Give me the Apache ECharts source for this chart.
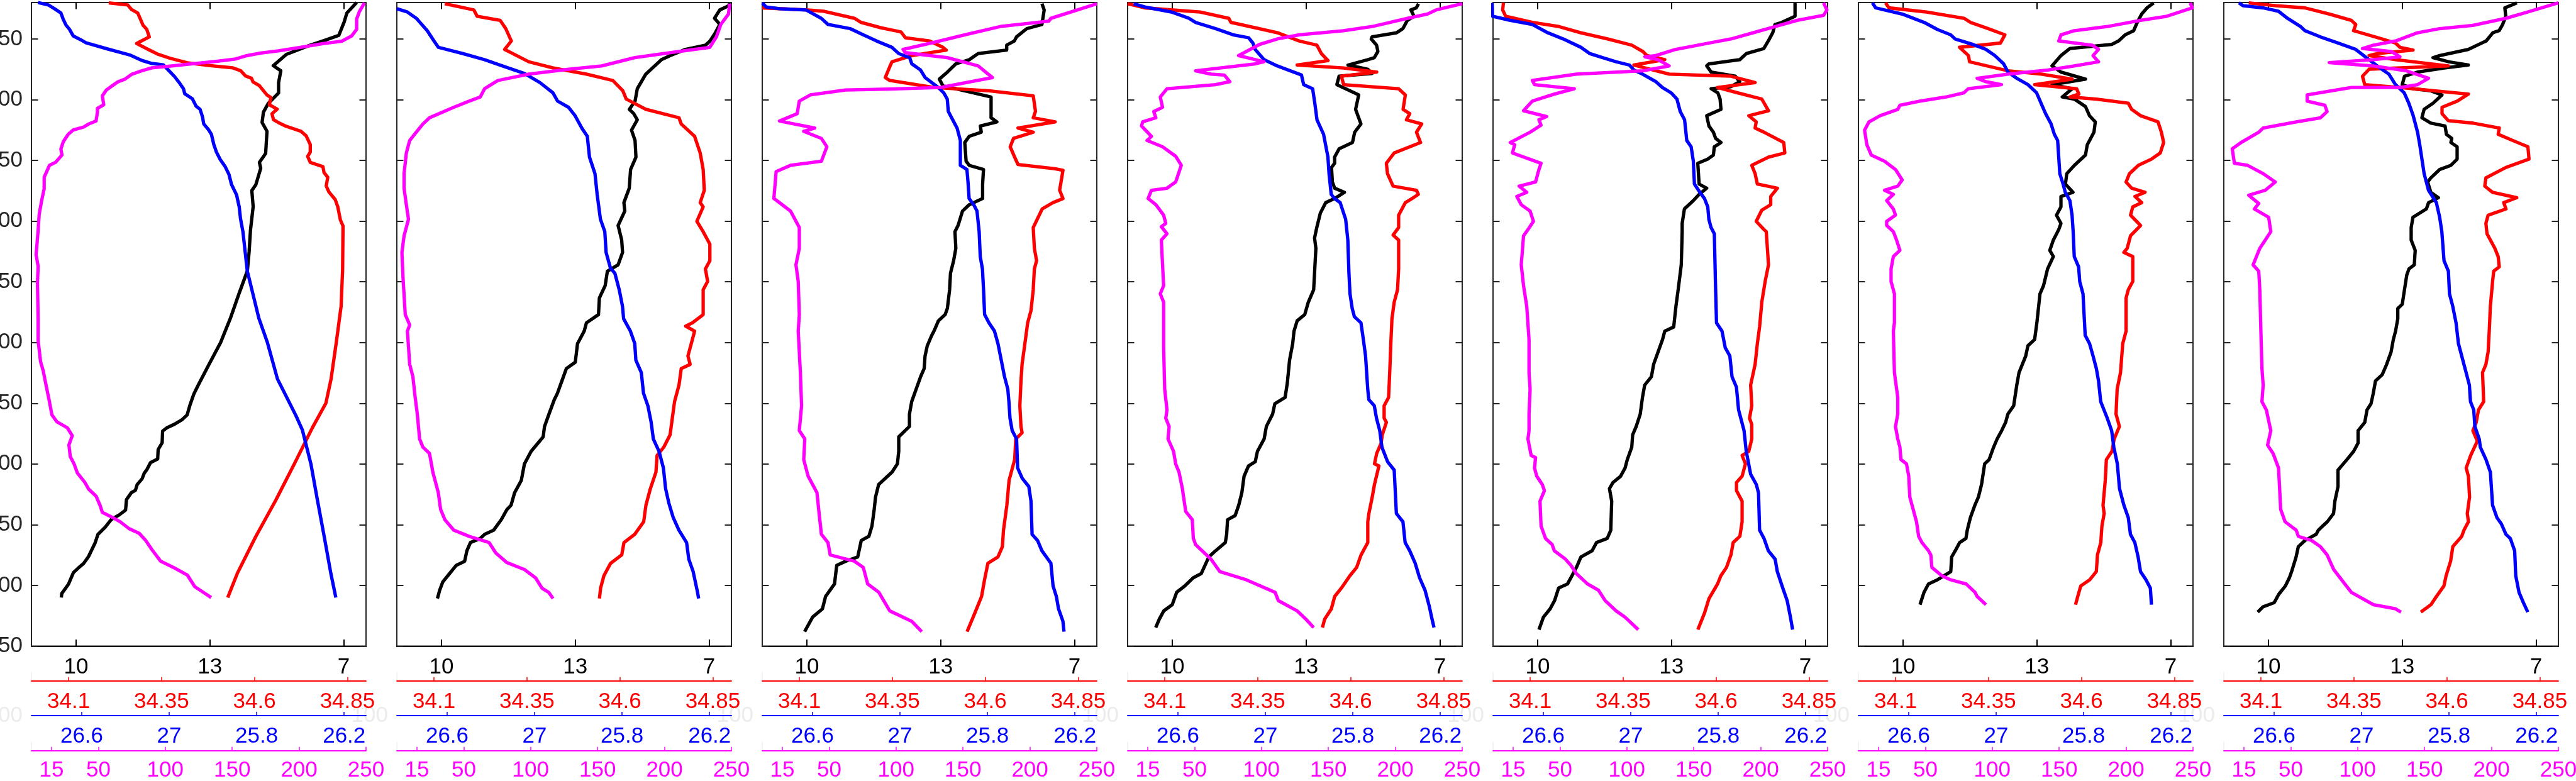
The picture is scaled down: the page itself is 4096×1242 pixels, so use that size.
<!DOCTYPE html>
<html><head><meta charset="utf-8">
<script src="https://cdn.jsdelivr.net/npm/echarts@6/dist/echarts.min.js"></script>
<style>html,body{margin:0;padding:0;background:#fff;}#c{width:4096px;height:1242px;}</style>
</head><body><div id="c"></div>
<script>
// ---- tick values and labels ----
const depthTicks = [50,100,150,200,250,300,350,400,450,500,550];
const tempTicks = [10,13,16];
const tempLabels = ['10','13','7'];
const salTicks = [34.1,34.35,34.6,34.85];
const salLabels = ['34.1','34.35','34.6','34.85'];
const densTicks = [25.4,25.8,26.2,26.6];
const densLabels = ['26.6','27','25.8','26.2'];
const oxyTicks = [15,50,100,150,200,250];
const oxyLabels = ['15','50','100','150','200','250'];
const ghostLabel = '100';

// ---- profiles: [value, depth] ----
const temp1 = [[16.29,20],[16.07,28.7],[16.01,36],[15.89,47],[15.56,51.3],[15.22,55.5],[14.71,62.8],[14.42,72],[14.59,76.2],[14.54,86],[14.54,94.5],[14.31,103],[14.20,110.3],[14.17,118.8],[14.28,126],[14.25,144.3],[14.11,151.7],[14.14,156.5],[14.03,170],[13.94,174.8],[13.97,188],[13.91,207.5],[13.88,225],[13.84,241],[13.65,260],[13.46,280],[13.24,300],[12.98,318],[12.74,335],[12.64,342.4],[12.55,351.9],[12.49,359.6],[12.38,363.4],[12.21,367.2],[12.04,370.1],[11.94,372.9],[11.93,382.5],[11.84,388.2],[11.83,395.9],[11.67,398.8],[11.59,404.5],[11.53,407.5],[11.48,412.2],[11.37,417],[11.33,421.7],[11.24,423.6],[11.13,429.3],[11.11,438],[10.97,441.9],[10.79,445.7],[10.65,452.2],[10.49,458],[10.43,464.7],[10.28,476.2],[10.17,481.9],[10.05,485.7],[9.94,489.5],[9.83,499],[9.68,506.7],[9.67,510]];
const sal1 = [[34.208,20.3],[34.259,22],[34.269,25.7],[34.286,28.7],[34.293,33.6],[34.30,38.6],[34.31,42],[34.317,48.3],[34.283,53.7],[34.31,58],[34.338,62.3],[34.372,65.8],[34.419,69.6],[34.481,72],[34.542,73.8],[34.563,76.2],[34.576,80.5],[34.592,82.4],[34.596,85.4],[34.613,88.4],[34.626,93.3],[34.634,96.3],[34.644,98.2],[34.64,104.2],[34.661,107.8],[34.647,111.6],[34.651,116.4],[34.664,118.8],[34.685,121.9],[34.725,126],[34.739,129.8],[34.75,137],[34.75,143.2],[34.743,146.7],[34.75,151.6],[34.784,155.2],[34.787,160],[34.797,163.9],[34.793,171.1],[34.80,175.9],[34.817,182.2],[34.824,188.2],[34.831,199],[34.838,204],[34.838,208.6],[34.837,240],[34.833,270],[34.82,300],[34.806,330],[34.792,350],[34.756,370],[34.707,400],[34.657,430],[34.603,460],[34.554,490],[34.528,510]];
const dens1 = [[25.20,20],[25.247,22],[25.276,25.2],[25.305,28.7],[25.315,33.6],[25.328,38.6],[25.344,42.1],[25.361,47.5],[25.396,50.7],[25.419,53.1],[25.513,58],[25.623,63.4],[25.675,67.7],[25.721,70.2],[25.773,71.3],[25.796,75.6],[25.825,81.1],[25.848,86.5],[25.865,90.9],[25.871,95.1],[25.906,99.3],[25.923,105.4],[25.941,107.9],[25.952,114],[25.958,120],[25.981,125],[25.993,128.5],[26.004,137],[26.016,143.2],[26.033,149.2],[26.056,155.2],[26.073,161.4],[26.085,169.9],[26.108,178.4],[26.12,188.2],[26.126,198],[26.137,208.6],[26.157,241],[26.21,280],[26.249,300],[26.295,330],[26.379,360],[26.409,372],[26.448,400],[26.478,430],[26.509,460],[26.539,490],[26.562,510]];
const oxy1 = [[248.8,20.3],[245,27.6],[243,33.6],[243,42.1],[239.3,47.5],[231.8,51.9],[218.5,53.7],[201.5,56.8],[184.5,59.8],[171.3,61.6],[160,64],[152.5,66.5],[139,68.3],[118.3,70.7],[101.3,72.6],[90,73.8],[82.5,76.2],[74.8,79.2],[70,83],[64.5,85.4],[59.8,89],[56,92],[53,96.9],[54,104.2],[49.3,107.2],[49.3,110.3],[48.3,117.6],[42.8,120],[39,122.5],[31.3,124.9],[27.5,128.5],[23.8,134.6],[22,140.7],[22.8,145.6],[18,151.6],[13.5,154],[11.5,159],[9.5,163.9],[9.5,173.5],[7.8,182.2],[5.8,194.2],[5,207.5],[3.5,227.7],[5,237.2],[4.5,250.6],[5,281.3],[5,298.4],[6.8,315.7],[8.8,323.3],[10.5,332.9],[13,346.2],[15.3,359.6],[19,365.3],[26.8,370.2],[30.5,376.7],[28,384.3],[29,393.9],[31.8,399.8],[34.3,407.4],[39.8,415],[42.8,420.8],[48.3,426.5],[51.3,434.2],[53,439.9],[61.5,444.6],[66.3,447.6],[73,453.3],[80.5,457.1],[85.3,462.9],[90,470.5],[96.5,480],[107,485.7],[116.5,491.5],[122,501],[127.5,505],[134.3,510]];

const temp2 = [[16.46,20.5],[16.44,22.7],[16.24,26.1],[16.12,33],[16.24,38],[16.14,44.9],[16.02,51.7],[15.92,55.1],[15.47,58.6],[15.13,63.7],[14.93,67.1],[14.73,73.9],[14.58,79],[14.39,91],[14.34,101.2],[14.21,108],[14.31,111.5],[14.39,116.6],[14.26,125.1],[14.34,133.6],[14.36,147.3],[14.24,157.5],[14.21,172.9],[14.09,184.8],[14.11,191.7],[13.96,203.6],[14.04,215.6],[14.06,225.8],[13.96,236],[13.72,241.2],[13.67,253.1],[13.54,263.3],[13.52,277],[13.25,283.8],[13.20,290.6],[13.05,300.9],[13.00,316.2],[12.80,321.4],[12.70,331.6],[12.60,341.8],[12.53,347],[12.41,358.9],[12.31,369.2],[12.28,377.7],[12.01,389.6],[11.86,399.9],[11.79,413.5],[11.64,423.7],[11.56,434],[11.47,437.4],[11.34,445.9],[11.17,454.5],[10.97,457.9],[10.87,461.3],[10.65,464.7],[10.57,471.5],[10.52,480.1],[10.33,483.5],[10.18,490.3],[10.03,497.1],[9.96,504],[9.91,510.8]];
const sal2 = [[34.129,21],[34.207,26.1],[34.216,31.3],[34.278,34.7],[34.293,41.5],[34.308,51.7],[34.290,58.6],[34.355,68.8],[34.421,73.9],[34.510,79],[34.581,84.2],[34.608,92.7],[34.617,99.5],[34.670,108],[34.759,114.9],[34.765,120],[34.801,130.2],[34.816,143.9],[34.824,157.5],[34.827,174.6],[34.816,184.8],[34.824,188.3],[34.807,200.2],[34.824,208.7],[34.842,219],[34.842,232.6],[34.830,239.4],[34.836,249.7],[34.824,256.5],[34.824,277],[34.795,283.8],[34.777,286.5],[34.801,290.6],[34.792,300.9],[34.783,311.1],[34.789,318],[34.765,321.4],[34.759,335],[34.747,348.7],[34.741,362.3],[34.735,376],[34.718,386.2],[34.700,393],[34.697,406.7],[34.682,420.3],[34.670,434],[34.664,447.6],[34.640,457.9],[34.611,464.7],[34.605,474.9],[34.575,481.8],[34.557,492],[34.548,502.3],[34.545,510.8]];
const dens2 = [[25.17,25.1],[25.218,27.8],[25.259,33],[25.309,43.2],[25.34,51.7],[25.36,56.9],[25.471,62],[25.572,67.1],[25.652,72.2],[25.753,78.4],[25.824,85.9],[25.884,94.4],[25.905,101.2],[25.955,106.3],[25.985,113.2],[26.016,123.4],[26.041,130.2],[26.051,147.3],[26.076,160.9],[26.086,178],[26.101,198.5],[26.121,208.7],[26.127,225.8],[26.147,238.8],[26.167,242.9],[26.187,256.5],[26.202,270.2],[26.207,280.4],[26.238,290.6],[26.258,300.9],[26.263,314.5],[26.288,324.8],[26.298,341.8],[26.318,352.1],[26.333,365.7],[26.343,379.4],[26.369,389.6],[26.389,403.3],[26.399,420.3],[26.414,432.3],[26.434,444.2],[26.46,454.5],[26.495,464.7],[26.505,478.3],[26.525,488.6],[26.545,505.6],[26.55,510.8]];
const oxy2 = [[248.7,21],[247.8,29.5],[242.1,38],[238.8,48.3],[233.8,56.9],[210.7,60.3],[177.8,65.4],[153.0,72.2],[128.3,74.9],[98.6,79],[75.5,84.2],[65.6,91],[62.3,97.8],[54.1,101.2],[42.5,106.3],[24.4,114.9],[19.5,120],[14.5,126.8],[9.6,133.6],[7.1,143.9],[5.4,161],[5.4,172.9],[7.1,186.5],[8.7,198.5],[5.4,212.1],[3.8,225.8],[4.6,246.3],[6.3,277],[9.6,285.5],[7.9,290.6],[9.6,317.9],[12.0,328.2],[13.7,345.2],[15.3,358.9],[17.0,379.4],[19.5,386.2],[24.4,391.3],[26.9,406.7],[31.0,423.7],[32.7,437.4],[35.9,445.9],[42.5,454.5],[54.1,459.6],[68.9,464.7],[73.9,473.2],[82.1,481.1],[95.3,486.9],[103.6,493.7],[108.5,502.3],[113.5,505.7],[116.7,510.8]];

const temp3 = [[15.27,21.0],[15.32,26.1],[15.27,38.1],[14.93,41.5],[14.70,48.3],[14.65,51.7],[14.48,55.1],[14.48,59.2],[13.84,62],[13.64,67.1],[13.34,70.5],[13.15,77.3],[12.97,83.1],[13.05,88.6],[13.34,91],[14.13,97.8],[14.13,114.9],[14.26,118.3],[13.89,121.7],[13.91,126.8],[13.64,130.2],[13.54,135.3],[13.57,150.7],[13.64,154.1],[13.96,157.5],[13.94,169.5],[13.94,181.4],[13.64,186.5],[13.49,191.7],[13.39,203.6],[13.32,208.7],[13.34,222.4],[13.29,232.6],[13.22,242.9],[13.20,256.5],[13.15,271.9],[13.10,277],[12.95,282.1],[12.85,290.6],[12.80,294.1],[12.70,302.6],[12.65,311.1],[12.63,321.4],[12.55,328.2],[12.45,338.4],[12.35,348.7],[12.30,358.9],[12.30,369.1],[12.06,377.7],[12.06,389.6],[12.03,399.9],[11.91,406.7],[11.61,416.9],[11.54,427.2],[11.51,437.4],[11.46,451.1],[11.39,459.6],[11.22,463],[11.14,476.6],[10.87,480.1],[10.67,483.5],[10.62,498.8],[10.42,509.1],[10.35,519.3],[10.13,526.1],[9.95,538.1]];
const sal3 = [[34.0,24.4],[34.123,26.1],[34.165,27.2],[34.248,33],[34.266,36.4],[34.319,40.8],[34.373,44.2],[34.385,49],[34.45,51.7],[34.486,56.9],[34.495,59.2],[34.403,63.7],[34.349,68.8],[34.343,72.9],[34.331,81.8],[34.343,84.2],[34.462,90],[34.610,92.7],[34.729,96.8],[34.735,109.7],[34.729,114.9],[34.788,118.3],[34.688,123.4],[34.729,126.8],[34.676,131.9],[34.667,138.8],[34.679,147.3],[34.688,153.4],[34.788,156.9],[34.809,158.2],[34.80,174.6],[34.809,181.4],[34.782,184.8],[34.753,190],[34.729,205.3],[34.732,222.4],[34.738,232.6],[34.732,239.4],[34.729,256.5],[34.723,273.6],[34.714,283.8],[34.708,297.5],[34.699,317.9],[34.696,331.6],[34.693,352.1],[34.696,369.1],[34.699,374.3],[34.682,379.4],[34.679,396.4],[34.664,413.5],[34.658,434],[34.649,454.5],[34.646,468.1],[34.634,476.6],[34.607,481.8],[34.598,495.4],[34.59,509.1],[34.572,522.7],[34.551,538.1]];
const dens3 = [[25.17,20.3],[25.188,23.7],[25.249,25.1],[25.37,26.1],[25.44,33],[25.471,38.1],[25.572,41.5],[25.632,46.6],[25.693,51.7],[25.763,56.9],[25.794,62],[25.844,65.4],[25.854,70.5],[25.894,75.6],[25.915,81.8],[25.975,90],[26.0,94.4],[26.016,99.5],[26.021,109.7],[26.041,116.6],[26.061,123.4],[26.076,133.6],[26.076,154.1],[26.106,157.5],[26.111,167.8],[26.116,181.4],[26.137,186.5],[26.152,191.7],[26.162,208.7],[26.167,229.2],[26.177,239.4],[26.182,256.5],[26.187,277],[26.207,283.8],[26.232,290.6],[26.248,300.9],[26.263,314.5],[26.278,328.2],[26.293,338.4],[26.298,348.7],[26.303,362.3],[26.313,372.5],[26.333,379.4],[26.338,403.3],[26.359,411.8],[26.389,418.6],[26.399,430.6],[26.404,457.9],[26.429,463],[26.449,471.5],[26.49,481.8],[26.5,500.5],[26.515,509.1],[26.525,519.3],[26.545,529.5],[26.55,538.1]];
const oxy3 = [[250,21],[215.7,33],[214.1,35.3],[177.8,39.8],[151.4,46.6],[128.3,52.8],[105.2,58.6],[106.9,61.3],[138.2,65.4],[161.3,72.2],[172,81.8],[133.2,90],[95.3,91.3],[62.3,92],[35.9,96.1],[27.7,101.2],[26.1,111.5],[12.9,117.6],[39.2,123.4],[31,126.1],[44.2,131.9],[48.3,138.8],[44.2,150.7],[21.1,154.1],[10.4,159.2],[8.7,181.4],[12.9,184.8],[21.1,191.7],[27.7,205.3],[27.7,222.4],[25.2,236],[26.9,249.7],[27.7,277],[26.9,290.6],[28.5,324.8],[29.4,352.1],[27.7,372.5],[31.8,379.4],[31,396.4],[34.3,410.1],[40.9,423.7],[42.5,440.8],[44.2,457.9],[49.1,464.7],[50.8,474.9],[68.9,480.1],[75.5,485.2],[78.8,498.8],[87.1,505.7],[95.3,521],[111.8,529.6],[119.2,538.1]];

const temp4 = [[15.52,21.0],[15.47,24.4],[15.35,26.1],[15.42,31.3],[15.27,34.7],[15.17,41.5],[15.03,44.9],[14.48,48.3],[14.46,50.0],[14.58,55.1],[14.61,60.3],[14.53,65.4],[14.38,67.1],[13.94,71.5],[14.38,74.9],[14.48,78.4],[13.74,80.7],[13.69,87.6],[14.18,96.1],[14.11,108.0],[14.23,120.0],[14.09,126.8],[14.04,135.3],[13.74,140.5],[13.64,147.3],[13.64,152.4],[13.57,155.8],[13.59,167.8],[13.64,172.9],[13.86,176.3],[13.64,181.4],[13.44,184.8],[13.32,193.4],[13.24,205.3],[13.19,213.9],[13.22,222.4],[13.19,242.9],[13.17,256.5],[13.05,266.8],[12.97,277.0],[12.80,282.1],[12.73,290.6],[12.70,300.9],[12.63,314.5],[12.58,333.3],[12.53,345.2],[12.30,350.4],[12.25,358.9],[12.11,369.1],[12.06,379.4],[11.91,389.6],[11.86,398.2],[11.71,401.6],[11.61,410.1],[11.56,423.7],[11.49,434.0],[11.41,442.5],[11.24,445.9],[11.22,457.9],[11.19,464.7],[10.97,471.5],[10.82,476.6],[10.65,490.3],[10.47,493.7],[10.28,500.5],[10.10,505.7],[10.00,515.9],[9.81,521.0],[9.71,527.8],[9.63,534.7]];
const sal4 = [[34.000,21.0],[34.046,24.4],[34.195,27.8],[34.272,33.0],[34.278,36.4],[34.343,40.8],[34.403,44.9],[34.462,51.7],[34.509,55.1],[34.521,62.0],[34.539,67.8],[34.456,71.5],[34.581,73.9],[34.670,77.3],[34.575,80.7],[34.581,87.6],[34.729,91.0],[34.747,96.1],[34.741,108.0],[34.759,111.5],[34.750,116.6],[34.791,120.0],[34.777,126.8],[34.788,135.3],[34.717,143.9],[34.696,152.4],[34.699,160.9],[34.714,171.2],[34.777,174.6],[34.782,178.0],[34.765,181.4],[34.747,184.8],[34.729,195.1],[34.729,205.3],[34.714,211.5],[34.729,215.6],[34.729,239.4],[34.726,256.5],[34.717,266.8],[34.711,280.4],[34.708,300.9],[34.705,324.8],[34.702,345.2],[34.690,352.1],[34.690,362.3],[34.696,365.7],[34.685,376.0],[34.682,382.8],[34.670,391.3],[34.664,399.9],[34.676,401.6],[34.664,416.9],[34.658,427.2],[34.649,440.8],[34.646,447.6],[34.646,464.7],[34.628,474.9],[34.616,485.2],[34.598,492.0],[34.575,502.2],[34.557,509.1],[34.548,519.3],[34.530,527.8],[34.524,534.7]];
const dens4 = [[25.198,21.0],[25.249,23.7],[25.370,27.8],[25.450,33.0],[25.481,36.4],[25.572,41.5],[25.652,46.6],[25.723,49.0],[25.743,53.4],[25.753,58.6],[25.794,67.1],[25.854,72.2],[25.915,76.3],[25.965,79.7],[25.975,87.6],[26.016,91.0],[26.026,102.9],[26.036,116.6],[26.066,128.5],[26.086,147.3],[26.091,160.9],[26.101,178.0],[26.116,181.4],[26.142,184.8],[26.167,198.5],[26.177,215.6],[26.182,242.9],[26.187,259.9],[26.197,271.9],[26.207,278.7],[26.237,283.8],[26.248,297.5],[26.258,311.1],[26.268,338.4],[26.273,347.0],[26.298,352.1],[26.308,362.3],[26.323,372.6],[26.333,386.2],[26.359,398.2],[26.389,405.0],[26.399,440.8],[26.429,447.6],[26.439,464.7],[26.460,471.5],[26.485,481.8],[26.505,493.7],[26.530,504.0],[26.550,517.6],[26.560,526.1],[26.571,534.7]];
const oxy4 = [[250.0,21.0],[230.5,26.1],[223.9,29.5],[209.1,33.0],[182.7,39.8],[161.3,43.2],[128.3,46.6],[111.8,50.0],[98.6,54.5],[88.7,60.3],[82.9,63.7],[101.9,68.8],[95.3,70.5],[50.8,76.3],[62.3,79.0],[72.2,79.7],[76.4,85.2],[65.6,87.6],[29.4,91.0],[24.4,97.8],[26.1,106.3],[19.5,109.8],[21.1,114.9],[11.2,118.3],[10.4,121.7],[17.8,130.2],[14.5,133.6],[26.1,138.8],[35.9,146.6],[40.1,154.1],[35.9,167.8],[29.4,172.9],[17.8,174.6],[15.3,181.4],[21.1,186.5],[26.9,195.1],[28.5,201.9],[25.2,204.6],[29.4,210.4],[25.2,215.6],[26.1,236.0],[26.9,253.1],[24.4,259.9],[26.9,266.7],[26.9,304.3],[27.7,338.4],[29.4,355.5],[28.5,362.3],[31.0,369.1],[30.2,379.4],[34.3,389.6],[35.9,399.9],[38.4,406.7],[40.9,420.3],[43.4,439.1],[48.3,445.9],[49.1,461.3],[50.8,466.4],[62.3,478.4],[68.9,488.6],[88.7,495.4],[110.2,505.7],[112.6,512.5],[126.7,521.0],[133.2,527.8],[139.0,534.7]];

const temp5 = [[15.77,20.3],[15.77,31.3],[15.47,36.4],[15.32,38.1],[15.27,44.9],[15.17,51.7],[15.07,57.9],[14.68,62.0],[14.53,67.1],[13.84,70.5],[13.79,72.2],[13.89,77.3],[14.43,80.7],[14.53,85.2],[14.33,89.3],[13.89,91.0],[14.04,94.4],[14.09,99.5],[14.11,108.0],[13.79,113.2],[13.84,121.7],[13.94,126.8],[13.99,131.9],[14.11,135.3],[13.96,138.8],[13.94,145.6],[13.81,149.0],[13.59,152.4],[13.62,169.5],[13.79,172.9],[13.62,178.0],[13.49,183.1],[13.29,190.0],[13.24,201.9],[13.24,208.7],[13.22,236.0],[13.15,256.5],[13.10,270.2],[13.05,287.2],[12.85,290.6],[12.80,297.5],[12.70,307.7],[12.60,318.0],[12.55,328.2],[12.40,335.0],[12.35,345.2],[12.30,358.9],[12.21,369.1],[12.13,376.0],[12.11,386.2],[12.01,396.4],[11.96,403.3],[11.86,410.1],[11.69,415.2],[11.61,420.3],[11.66,430.6],[11.64,454.5],[11.56,461.3],[11.32,464.7],[11.22,471.5],[10.97,476.6],[10.87,485.2],[10.77,492.0],[10.67,498.8],[10.47,502.2],[10.38,512.5],[10.28,519.3],[10.13,526.1],[10.03,536.4]];
const sal5 = [[34.028,20.3],[34.026,26.1],[34.034,31.3],[34.106,36.4],[34.177,39.8],[34.236,44.9],[34.308,50.0],[34.373,55.1],[34.403,60.3],[34.414,63.7],[34.462,67.1],[34.379,71.5],[34.474,79.0],[34.640,80.7],[34.705,85.9],[34.604,90.0],[34.658,94.4],[34.723,99.5],[34.741,109.1],[34.688,113.2],[34.708,118.3],[34.705,123.4],[34.729,126.8],[34.782,135.3],[34.785,143.9],[34.741,147.3],[34.696,154.1],[34.705,160.9],[34.711,169.5],[34.765,172.9],[34.747,179.7],[34.747,186.5],[34.723,191.0],[34.708,200.2],[34.729,207.0],[34.735,208.7],[34.741,236.0],[34.732,249.7],[34.723,266.7],[34.717,287.2],[34.711,300.9],[34.705,318.0],[34.693,335.0],[34.696,352.1],[34.690,362.3],[34.696,367.4],[34.696,379.4],[34.688,389.6],[34.670,393.0],[34.679,399.9],[34.670,410.1],[34.655,415.2],[34.655,422.0],[34.670,430.6],[34.670,447.6],[34.664,459.6],[34.646,464.7],[34.640,474.9],[34.628,485.2],[34.613,492.0],[34.604,498.8],[34.581,510.8],[34.569,522.7],[34.551,536.4]];
const dens5 = [[25.166,20.3],[25.168,31.3],[25.249,34.7],[25.350,38.1],[25.420,44.9],[25.491,50.0],[25.572,56.9],[25.612,62.0],[25.672,65.4],[25.733,68.8],[25.794,71.5],[25.814,75.6],[25.854,79.0],[25.915,85.2],[25.945,90.0],[25.985,94.4],[26.011,99.5],[26.026,109.7],[26.046,116.6],[26.056,133.6],[26.076,138.8],[26.086,150.7],[26.091,169.5],[26.116,176.3],[26.137,181.4],[26.152,188.3],[26.157,198.5],[26.167,205.3],[26.182,210.4],[26.187,249.7],[26.192,283.8],[26.217,290.6],[26.232,304.3],[26.253,311.1],[26.263,328.2],[26.283,336.7],[26.293,355.5],[26.303,362.3],[26.318,372.6],[26.328,389.6],[26.348,408.4],[26.374,416.9],[26.384,423.7],[26.389,454.5],[26.409,461.3],[26.429,471.5],[26.460,478.4],[26.470,488.6],[26.495,502.2],[26.515,512.5],[26.530,526.1],[26.540,536.4]];
const oxy5 = [[247.0,20.3],[249.5,26.1],[247.0,30.6],[227.2,34.7],[210.8,39.8],[194.3,44.9],[177.8,50.0],[161.3,53.4],[136.5,58.6],[121.7,63.7],[113.5,64.7],[123.4,67.1],[131.6,72.2],[111.8,76.3],[62.3,79.0],[29.4,84.2],[31.0,87.6],[60.7,91.0],[45.8,95.4],[29.4,101.2],[22.8,109.1],[40.1,113.9],[34.3,116.6],[35.9,121.0],[27.7,126.8],[12.9,135.3],[16.2,137.1],[14.5,143.9],[35.9,152.4],[34.3,157.5],[31.8,167.8],[19.5,171.2],[25.2,176.3],[17.8,179.7],[21.1,186.5],[27.7,191.7],[30.2,200.2],[26.1,207.0],[22.8,212.1],[21.1,236.0],[22.8,253.1],[25.2,270.2],[26.9,297.5],[26.9,324.8],[27.7,338.4],[26.9,358.9],[26.9,372.6],[26.1,379.4],[28.5,393.0],[31.8,394.7],[31.0,403.3],[32.7,410.1],[36.8,416.9],[38.4,422.0],[35.1,430.6],[35.9,451.1],[39.2,461.3],[44.2,466.4],[45.8,471.5],[54.1,478.4],[58.2,483.5],[62.3,490.3],[70.6,498.8],[78.8,504.0],[83.8,512.5],[92.0,521.0],[98.6,526.1],[108.5,536.4]];

const temp6 = [[15.62,20.3],[15.47,24.4],[15.35,29.5],[15.25,36.4],[15.17,43.2],[14.98,46.6],[14.83,51.7],[14.68,54.5],[13.74,57.9],[13.54,63.7],[13.34,72.2],[13.54,77.3],[14.09,83.1],[13.34,87.6],[13.79,91.0],[13.57,97.8],[13.84,99.5],[14.09,105.7],[14.18,113.2],[14.31,118.3],[14.28,126.8],[14.13,137.1],[14.09,145.6],[13.84,154.1],[13.67,161.0],[13.64,169.5],[13.81,176.3],[13.54,179.7],[13.54,188.3],[13.44,195.1],[13.54,201.9],[13.49,207.0],[13.37,215.6],[13.29,224.1],[13.37,229.2],[13.24,239.4],[13.15,253.1],[13.07,259.9],[13.05,266.7],[13.00,283.8],[12.95,297.5],[12.80,302.6],[12.75,311.1],[12.60,324.8],[12.55,335.0],[12.48,352.1],[12.35,358.9],[12.30,365.7],[12.21,372.6],[12.11,379.4],[12.03,386.2],[11.93,396.4],[11.83,399.9],[11.76,416.9],[11.69,427.2],[11.61,434.0],[11.51,444.2],[11.44,454.5],[11.41,461.3],[11.27,464.7],[11.17,471.5],[11.09,476.6],[11.07,488.6],[10.77,495.4],[10.57,498.8],[10.47,505.7],[10.38,515.9]];
const sal6 = [[34.073,20.3],[34.082,24.4],[34.183,27.8],[34.236,30.6],[34.284,33.0],[34.302,36.4],[34.349,41.5],[34.394,46.6],[34.382,53.4],[34.272,56.9],[34.296,63.7],[34.299,68.8],[34.403,76.3],[34.492,79.0],[34.575,83.1],[34.474,87.6],[34.587,91.0],[34.593,95.4],[34.569,97.8],[34.640,99.5],[34.726,102.9],[34.735,108.0],[34.759,113.2],[34.806,118.3],[34.815,126.8],[34.821,135.3],[34.812,143.9],[34.788,149.0],[34.753,154.1],[34.729,161.0],[34.720,167.8],[34.735,172.9],[34.771,176.3],[34.744,179.7],[34.762,184.8],[34.738,188.3],[34.732,195.1],[34.759,203.6],[34.732,212.1],[34.723,222.4],[34.714,225.8],[34.738,229.2],[34.738,249.7],[34.726,256.5],[34.720,263.3],[34.720,290.6],[34.711,300.9],[34.705,324.8],[34.696,338.4],[34.693,358.9],[34.702,369.1],[34.688,379.4],[34.682,389.6],[34.667,396.4],[34.664,413.5],[34.658,434.0],[34.661,440.8],[34.655,451.1],[34.652,464.7],[34.643,474.9],[34.640,488.6],[34.622,495.4],[34.598,500.5],[34.590,509.1],[34.584,515.9]];
const dens6 = [[25.234,20.3],[25.249,24.4],[25.370,29.5],[25.471,36.4],[25.531,42.2],[25.592,46.6],[25.612,50.0],[25.693,54.5],[25.753,58.6],[25.794,63.7],[25.834,70.5],[25.854,77.3],[25.894,82.4],[25.945,87.6],[25.985,94.4],[26.005,102.9],[26.026,111.5],[26.051,120.0],[26.066,128.5],[26.081,133.6],[26.086,147.3],[26.091,161.0],[26.106,169.5],[26.116,176.3],[26.137,183.1],[26.147,195.1],[26.152,208.7],[26.157,229.2],[26.177,237.7],[26.182,249.7],[26.197,259.9],[26.202,277.0],[26.207,294.1],[26.227,300.9],[26.243,311.1],[26.258,321.4],[26.268,331.6],[26.278,348.7],[26.293,355.5],[26.308,362.3],[26.328,372.6],[26.338,386.2],[26.354,399.9],[26.364,420.3],[26.384,434.0],[26.404,444.2],[26.414,457.9],[26.434,464.7],[26.449,476.6],[26.460,488.6],[26.485,495.4],[26.505,502.2],[26.510,515.9]];
const oxy6 = [[247.9,20.3],[249.5,24.4],[230.5,31.3],[210.8,34.7],[186.0,39.8],[161.3,43.2],[151.4,46.6],[149.7,51.7],[174.5,55.1],[179.4,58.6],[175.3,63.7],[179.4,68.8],[161.3,72.2],[141.5,75.6],[111.8,79.0],[88.7,82.4],[95.3,85.2],[106.9,87.6],[82.1,91.0],[78.8,94.4],[65.6,97.8],[45.8,101.2],[31.0,104.6],[29.4,108.0],[16.2,113.2],[7.9,118.3],[4.6,125.1],[6.3,137.1],[9.6,145.6],[19.5,150.7],[27.7,157.5],[32.7,166.1],[29.4,171.2],[19.5,174.6],[26.1,178.0],[21.1,183.1],[26.1,190.0],[27.7,195.1],[21.1,200.2],[21.1,203.6],[26.1,208.7],[28.5,215.6],[31.0,224.1],[26.1,229.2],[24.4,239.4],[24.4,249.7],[26.9,259.9],[26.9,283.8],[26.1,290.6],[26.9,324.8],[29.4,345.2],[29.4,358.9],[27.7,369.1],[29.4,379.4],[31.0,386.2],[31.8,396.4],[35.9,399.9],[37.6,410.1],[38.4,427.2],[40.9,437.4],[43.4,447.6],[45.0,459.6],[47.5,464.7],[52.4,471.5],[54.1,474.9],[54.9,485.2],[62.3,492.0],[68.9,495.4],[80.5,498.8],[87.1,505.7],[88.7,509.1],[95.3,515.9]];

const temp7 = [[15.57,20.3],[15.30,24.4],[15.32,31.3],[15.25,38.1],[15.17,43.2],[15.03,44.9],[14.88,51.7],[14.48,58.6],[13.84,63.7],[13.69,65.4],[14.04,68.8],[14.48,71.5],[13.94,73.9],[13.34,77.3],[13.05,80.7],[13.00,87.6],[13.24,91.0],[13.64,92.7],[13.89,96.1],[13.69,102.9],[13.49,108.0],[13.44,114.9],[13.64,119.3],[13.96,121.7],[13.99,128.5],[14.11,131.9],[14.09,135.3],[14.23,138.8],[14.23,149.0],[14.09,154.1],[13.84,157.5],[13.64,164.4],[13.57,167.8],[13.64,176.3],[13.81,180.7],[13.59,184.8],[13.54,190.0],[13.24,196.8],[13.20,205.3],[13.20,215.6],[13.29,224.1],[13.27,236.0],[13.15,239.4],[13.10,244.6],[13.05,256.5],[13.00,268.5],[12.90,271.9],[12.90,280.4],[12.85,290.6],[12.80,297.5],[12.75,307.7],[12.65,318.0],[12.55,326.5],[12.40,331.6],[12.35,341.8],[12.30,350.4],[12.21,355.5],[12.16,365.7],[12.01,372.6],[12.01,382.8],[11.91,389.6],[11.76,396.4],[11.56,405.0],[11.56,418.6],[11.49,430.6],[11.46,440.8],[11.32,447.6],[11.22,451.0],[11.12,454.5],[11.07,457.9],[10.82,463.0],[10.67,468.1],[10.62,476.6],[10.52,488.6],[10.47,493.7],[10.38,500.5],[10.23,507.4],[10.13,514.2],[9.88,517.6],[9.76,522.0]];
const sal7 = [[34.067,20.3],[34.141,22.7],[34.218,24.4],[34.284,29.5],[34.343,34.7],[34.355,38.1],[34.349,43.2],[34.426,50.0],[34.462,53.4],[34.474,56.9],[34.509,59.2],[34.414,62.0],[34.391,63.7],[34.462,67.1],[34.604,72.2],[34.391,74.9],[34.373,80.7],[34.379,87.6],[34.474,90.0],[34.658,95.4],[34.628,101.2],[34.587,106.3],[34.587,111.5],[34.604,117.3],[34.670,119.3],[34.741,123.4],[34.738,128.5],[34.777,133.6],[34.818,138.8],[34.821,149.0],[34.759,155.8],[34.705,164.4],[34.702,171.2],[34.723,176.3],[34.788,180.7],[34.753,184.8],[34.759,190.0],[34.711,195.1],[34.705,201.9],[34.708,210.4],[34.729,222.4],[34.738,229.2],[34.741,237.7],[34.726,241.2],[34.723,249.7],[34.717,270.2],[34.714,290.6],[34.711,307.7],[34.705,318.0],[34.696,324.8],[34.699,348.7],[34.685,355.5],[34.679,365.7],[34.670,372.6],[34.682,381.1],[34.664,393.0],[34.652,403.3],[34.658,410.1],[34.661,427.2],[34.655,440.8],[34.658,447.6],[34.646,454.5],[34.640,459.6],[34.616,468.1],[34.610,480.1],[34.598,492.0],[34.592,500.5],[34.572,509.1],[34.557,515.9],[34.530,522.0]];
const dens7 = [[25.239,20.3],[25.259,22.7],[25.350,24.4],[25.420,27.2],[25.461,33.0],[25.521,39.8],[25.541,43.2],[25.612,48.3],[25.693,53.4],[25.773,58.6],[25.834,67.1],[25.884,73.9],[25.925,79.0],[25.955,87.6],[25.995,94.4],[26.016,102.9],[26.036,113.2],[26.056,126.8],[26.066,137.1],[26.086,160.9],[26.106,174.6],[26.142,184.8],[26.157,196.8],[26.167,208.7],[26.177,232.6],[26.197,241.2],[26.202,259.9],[26.217,270.2],[26.232,283.8],[26.243,300.9],[26.263,314.5],[26.283,328.2],[26.293,335.0],[26.298,348.7],[26.313,355.5],[26.318,369.1],[26.338,379.4],[26.343,386.2],[26.369,396.4],[26.389,406.7],[26.399,434.0],[26.419,444.2],[26.439,449.3],[26.460,457.9],[26.480,461.3],[26.500,471.5],[26.505,492.0],[26.520,505.7],[26.540,514.2],[26.560,522.0]];
const oxy7 = [[250.0,20.3],[227.2,27.8],[210.8,33.0],[186.0,38.8],[161.3,41.5],[144.8,44.9],[128.3,51.7],[111.8,55.1],[103.6,57.9],[125.0,60.3],[131.6,64.7],[111.8,67.1],[78.8,69.5],[111.8,72.2],[136.5,76.3],[153.0,82.4],[144.8,87.6],[131.6,90.0],[95.3,90.0],[62.3,96.1],[62.3,101.2],[75.5,104.6],[77.2,109.8],[72.2,114.9],[54.1,118.3],[29.4,123.4],[26.1,126.8],[12.9,135.3],[6.3,140.5],[7.9,152.4],[17.8,154.1],[29.4,160.9],[38.4,167.8],[31.0,174.6],[18.6,178.7],[26.1,185.5],[22.8,190.0],[33.5,196.8],[35.1,208.7],[31.0,215.6],[26.9,222.4],[21.9,236.0],[26.1,241.2],[26.9,256.5],[27.7,290.6],[28.5,321.4],[29.4,335.0],[28.5,348.7],[31.8,355.5],[35.1,372.6],[32.7,384.5],[36.8,391.3],[40.9,403.3],[41.7,420.3],[42.5,437.4],[45.8,447.6],[54.1,454.5],[55.7,459.6],[65.6,463.0],[72.2,468.1],[77.2,474.9],[82.1,486.9],[90.4,498.8],[95.3,505.7],[111.8,515.9],[128.3,519.3],[132.4,522.0]];

const tempProfiles = [temp1,temp2,temp3,temp4,temp5,temp6,temp7];
const salProfiles  = [sal1,sal2,sal3,sal4,sal5,sal6,sal7];
const densProfiles = [dens1,dens2,dens3,dens4,dens5,dens6,dens7];
const oxyProfiles  = [oxy1,oxy2,oxy3,oxy4,oxy5,oxy6,oxy7];

// ---- layout (px) ----
const L0 = 50, PITCH = 581, W = 532, TOP = 4, H = 1023.5;
const OFF_S = 55.2, OFF_D = 110.4, OFF_O = 166.2;
const FONT = 'Liberation Sans, Arial, Helvetica, sans-serif';
const FS = 35, LW = 5.3, TICKLEN = 10.5, BOX = '#262626';

function lookup(ticks, labels) {
  return function (v) {
    for (let i = 0; i < ticks.length; i++) if (Math.abs(ticks[i] - v) < 1e-6) return labels[i];
    return '';
  };
}

const grids = [], xAxes = [], yAxes = [], series = [], graphics = [];
for (let g = 0; g < 7; g++) {
  const left = L0 + PITCH * g;
  grids.push({left: left, top: TOP, width: W, height: H, show: true, borderColor: BOX, borderWidth: 2,
    backgroundColor: 'transparent', containLabel: false, outerBoundsMode: 'none'});
  xAxes.push({type: 'value', gridIndex: g, position: 'bottom', min: 9, max: 16.5,
    axisLine: {show: true, onZero: false, lineStyle: {color: '#000', width: 2.2}}, splitLine: {show: false},
    axisTick: {show: true, inside: true, length: TICKLEN, customValues: tempTicks, lineStyle: {color: '#000', width: 2}},
    axisLabel: {show: true, customValues: tempTicks, formatter: lookup(tempTicks, tempLabels), color: '#000', fontSize: FS, fontFamily: FONT, margin: 16}});
  xAxes.push({type: 'value', gridIndex: g, position: 'top', min: 9, max: 16.5,
    axisLine: {show: false}, splitLine: {show: false},
    axisTick: {show: true, inside: true, length: TICKLEN, customValues: tempTicks, lineStyle: {color: '#000', width: 2}},
    axisLabel: {show: false}});
  xAxes.push({type: 'value', gridIndex: g, position: 'bottom', offset: OFF_S, min: 34.0, max: 34.9,
    axisLine: {show: true, onZero: false, lineStyle: {color: '#ff0000', width: 1.8}}, splitLine: {show: false},
    axisTick: {show: true, inside: true, length: 6, customValues: salTicks, lineStyle: {color: '#ff0000', width: 1.5}},
    axisLabel: {show: true, customValues: salTicks, formatter: lookup(salTicks, salLabels), color: '#ff0000', fontSize: FS, fontFamily: FONT, margin: 16}});
  xAxes.push({type: 'value', gridIndex: g, position: 'bottom', offset: OFF_D, min: 25.17, max: 26.70,
    axisLine: {show: true, onZero: false, lineStyle: {color: '#0000ff', width: 1.8}}, splitLine: {show: false},
    axisTick: {show: true, inside: true, length: 6, customValues: densTicks, lineStyle: {color: '#0000ff', width: 1.5}},
    axisLabel: {show: true, customValues: densTicks, formatter: lookup(densTicks, densLabels), color: '#0000ff', fontSize: FS, fontFamily: FONT, margin: 16}});
  xAxes.push({type: 'value', gridIndex: g, position: 'bottom', offset: OFF_O, min: 0, max: 250,
    axisLine: {show: true, onZero: false, lineStyle: {color: '#ff00ff', width: 1.8}}, splitLine: {show: false},
    axisTick: {show: true, inside: true, length: 6, customValues: oxyTicks, lineStyle: {color: '#ff00ff', width: 1.5}},
    axisLabel: {show: true, customValues: oxyTicks, formatter: lookup(oxyTicks, oxyLabels), color: '#ff00ff', fontSize: FS, fontFamily: FONT, margin: 14}});
  yAxes.push({type: 'value', gridIndex: g, position: 'left', inverse: true, min: 20, max: 550,
    axisLine: {show: false}, splitLine: {show: false},
    axisTick: {show: true, inside: true, length: TICKLEN, customValues: depthTicks, lineStyle: {color: BOX, width: 2}},
    axisLabel: {show: g === 0, customValues: depthTicks, color: BOX, fontSize: FS, fontFamily: FONT, margin: 14}});
  yAxes.push({type: 'value', gridIndex: g, position: 'right', inverse: true, min: 20, max: 550,
    axisLine: {show: false}, splitLine: {show: false},
    axisTick: {show: true, inside: true, length: TICKLEN, customValues: depthTicks, lineStyle: {color: BOX, width: 2}},
    axisLabel: {show: false}});

  const xb = g * 5, yb = g * 2;
  const mk = (data, xi, color) => ({type: 'line', data: data, xAxisIndex: xi, yAxisIndex: yb,
    showSymbol: false, symbol: 'none', silent: true, animation: false,
    lineStyle: {color: color, width: LW, join: 'round', cap: 'butt'}, z: 3});
  series.push(mk(tempProfiles[g], xb, '#000000'));
  series.push(mk(salProfiles[g], xb + 2, '#ff0000'));
  series.push(mk(densProfiles[g], xb + 3, '#0000ff'));
  series.push(mk(oxyProfiles[g], xb + 4, '#ff00ff'));

  const yBottom = TOP + H;
  graphics.push({type: 'text', silent: true, style: {text: ghostLabel, x: left - 14, y: yBottom + OFF_D, align: 'right', verticalAlign: 'middle', fill: '#ececec', font: FS + 'px ' + FONT}});
  [OFF_S, OFF_O].forEach(function (off) {
    graphics.push({type: 'line', silent: true, shape: {x1: left, y1: yBottom + off - 14, x2: left, y2: yBottom + off}, style: {stroke: '#e6e6e6', lineWidth: 1}});
  });
}

const chart = echarts.init(document.getElementById('c'), null, {renderer: 'canvas'});
chart.setOption({
  animation: false,
  backgroundColor: '#ffffff',
  grid: grids, xAxis: xAxes, yAxis: yAxes, series: series,
  graphic: graphics
});
</script></body></html>
